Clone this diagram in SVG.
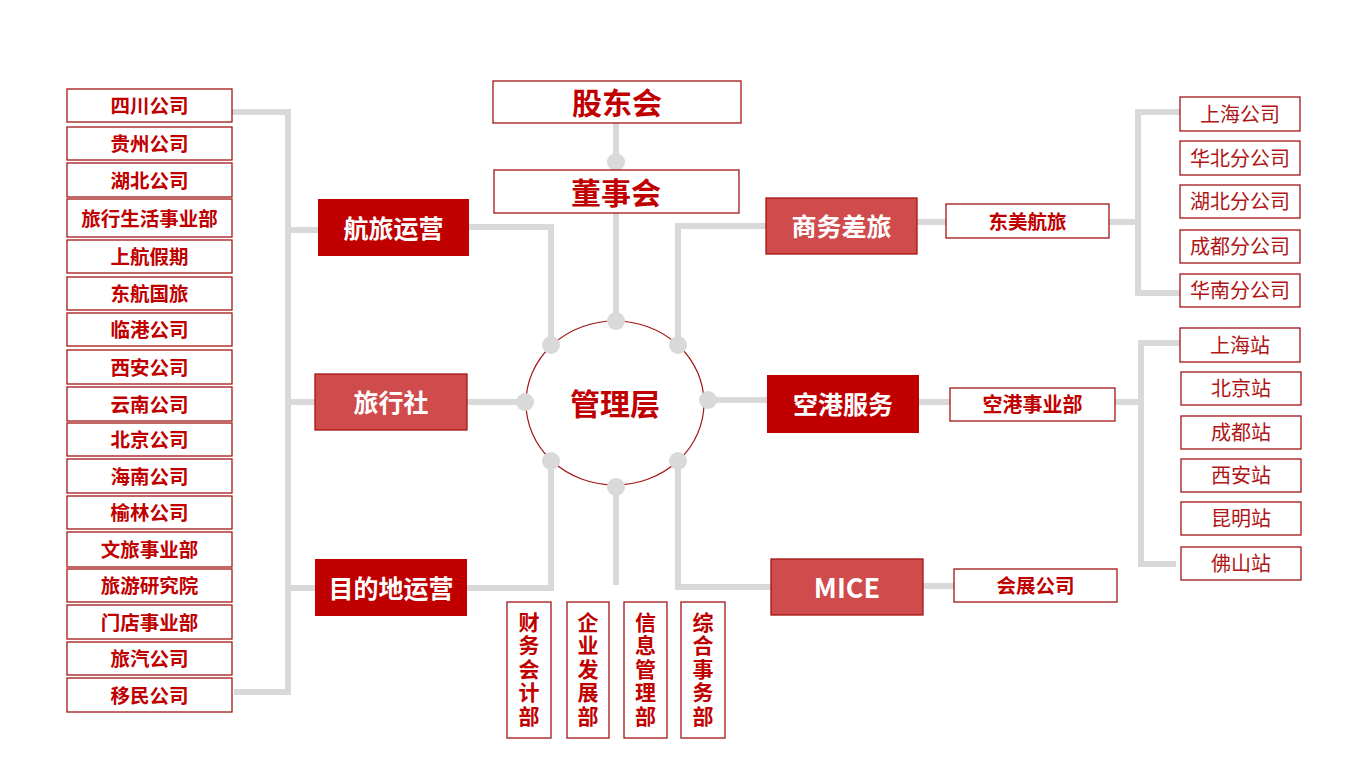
<svg xmlns="http://www.w3.org/2000/svg" width="1351" height="757" viewBox="0 0 1351 757">
<style>
text{font-family:"Noto Sans CJK SC","Microsoft YaHei",sans-serif;text-anchor:middle;dominant-baseline:central}
.wb{fill:#fff;stroke:#A31515;stroke-width:1.3}
.dk{fill:#C00000}
.lt{fill:#D04B4B;stroke:#A31515;stroke-width:1.3}
.t1{fill:#C00000;font-weight:700;font-size:19.5px}
.t2{fill:#B01515;font-weight:400;font-size:20px}
.tw{fill:#fff;font-weight:700;font-size:25px}
.tb{fill:#C00000;font-weight:700;font-size:30px}
.tv{fill:#C00000;font-weight:700;font-size:21px;writing-mode:vertical-rl;letter-spacing:2.5px}
.ln{fill:none;stroke:#D9D9D9;stroke-width:6}
.dot{fill:#D9D9D9}
</style>
<rect width="1351" height="757" fill="#fff"/>
<g id="mgmt-ring"><ellipse cx="615" cy="403" rx="89" ry="82" fill="#fff" stroke="#A31515" stroke-width="1.2"/></g>
<g id="connectors">
<path class="ln" d="M616,123V170M616,213V321M469,227H551V345M766,226H678V345M467,402H525M708,400H767M467,588H551V461M771,587H678V461M616,487V585"/>
<path class="ln" d="M232,112H288V692H234M288,230H318M288,402H315M288,588H315"/>
<path class="ln" d="M917,222H946M1109,222H1138M1180,112H1138V293H1180"/>
<path class="ln" d="M919,402H950M1115,402H1141M1180,343H1141V564H1176M923,586H954"/>
<circle class="dot" cx="616" cy="162" r="9"/>
<circle class="dot" cx="616" cy="321" r="9"/>
<circle class="dot" cx="551" cy="345" r="9"/>
<circle class="dot" cx="678" cy="345" r="9"/>
<circle class="dot" cx="525" cy="402" r="9"/>
<circle class="dot" cx="708" cy="400" r="9"/>
<circle class="dot" cx="551" cy="461" r="9"/>
<circle class="dot" cx="616" cy="487" r="9"/>
<circle class="dot" cx="678" cy="461" r="9"/>
</g>
<g id="mgmt"><text class="tb" x="615" y="402">管理层</text></g>
<g id="shareholders"><rect class="wb" x="493" y="81" width="248" height="42"/><text class="tb" x="617" y="101">股东会</text></g>
<g id="board"><rect class="wb" x="494" y="170" width="245" height="43"/><text class="tb" x="616" y="190.5">董事会</text></g>
<g id="hanglv"><rect class="dk" x="318" y="199" width="151" height="57"/><text class="tw" x="393.5" y="226.5">航旅运营</text></g>
<g id="lvxingshe"><rect class="lt" x="315" y="374" width="152" height="56"/><text class="tw" x="391" y="401">旅行社</text></g>
<g id="mudidi"><rect class="dk" x="315" y="559" width="152" height="57"/><text class="tw" x="391" y="586.5">目的地运营</text></g>
<g id="shangwu"><rect class="lt" x="766" y="198" width="151" height="56"/><text class="tw" x="841.5" y="225">商务差旅</text></g>
<g id="konggang"><rect class="dk" x="767" y="375" width="152" height="58"/><text class="tw" x="843" y="403">空港服务</text></g>
<g id="mice"><rect class="lt" x="771" y="559" width="152" height="56"/><text class="tw" x="847" y="586" style="font-size:27px">MICE</text></g>
<g id="dongmei"><rect class="wb" x="946" y="204" width="163" height="34"/><text class="t1" x="1027.5" y="220">东美航旅</text></g>
<g id="kgsyb"><rect class="wb" x="950" y="388" width="165" height="33"/><text class="t1" x="1032.5" y="403.5" style="font-size:20px">空港事业部</text></g>
<g id="huizhan"><rect class="wb" x="954" y="569" width="163" height="33"/><text class="t1" x="1035.5" y="584.5">会展公司</text></g>
<g id="right-top-list">
<g id="r1"><rect class="wb" x="1180" y="97" width="120" height="34"/><text class="t2" x="1240" y="113">上海公司</text></g>
<g id="r2"><rect class="wb" x="1180" y="141" width="120" height="34"/><text class="t2" x="1240" y="157">华北分公司</text></g>
<g id="r3"><rect class="wb" x="1180" y="185" width="120" height="33"/><text class="t2" x="1240" y="200.5">湖北分公司</text></g>
<g id="r4"><rect class="wb" x="1180" y="230" width="120" height="33"/><text class="t2" x="1240" y="245.5">成都分公司</text></g>
<g id="r5"><rect class="wb" x="1180" y="274" width="120" height="33"/><text class="t2" x="1240" y="289.5">华南分公司</text></g>
</g>
<g id="right-bottom-list">
<g id="s1"><rect class="wb" x="1180" y="328" width="120" height="34"/><text class="t2" x="1240" y="344">上海站</text></g>
<g id="s2"><rect class="wb" x="1181" y="372" width="120" height="33"/><text class="t2" x="1241" y="387.5">北京站</text></g>
<g id="s3"><rect class="wb" x="1181" y="416" width="120" height="33"/><text class="t2" x="1241" y="431.5">成都站</text></g>
<g id="s4"><rect class="wb" x="1181" y="459" width="120" height="33"/><text class="t2" x="1241" y="474.5">西安站</text></g>
<g id="s5"><rect class="wb" x="1181" y="502" width="120" height="33"/><text class="t2" x="1241" y="517.5">昆明站</text></g>
<g id="s6"><rect class="wb" x="1181" y="547" width="120" height="33"/><text class="t2" x="1241" y="562.5">佛山站</text></g>
</g>
<g id="left-list">
<g id="l1"><rect class="wb" x="67" y="89" width="165" height="33"/><text class="t1" x="149.5" y="104.5">四川公司</text></g>
<g id="l2"><rect class="wb" x="67" y="127" width="165" height="33"/><text class="t1" x="149.5" y="142.5">贵州公司</text></g>
<g id="l3"><rect class="wb" x="67" y="163" width="165" height="34"/><text class="t1" x="149.5" y="179">湖北公司</text></g>
<g id="l4"><rect class="wb" x="67" y="199" width="165" height="38"/><text class="t1" x="149.5" y="217">旅行生活事业部</text></g>
<g id="l5"><rect class="wb" x="67" y="240" width="165" height="33"/><text class="t1" x="149.5" y="255.5">上航假期</text></g>
<g id="l6"><rect class="wb" x="67" y="277" width="165" height="33"/><text class="t1" x="149.5" y="292.5">东航国旅</text></g>
<g id="l7"><rect class="wb" x="67" y="313" width="165" height="33"/><text class="t1" x="149.5" y="328.5">临港公司</text></g>
<g id="l8"><rect class="wb" x="67" y="350" width="165" height="34"/><text class="t1" x="149.5" y="366">西安公司</text></g>
<g id="l9"><rect class="wb" x="67" y="387" width="165" height="34"/><text class="t1" x="149.5" y="403">云南公司</text></g>
<g id="l10"><rect class="wb" x="67" y="423" width="165" height="33"/><text class="t1" x="149.5" y="438.5">北京公司</text></g>
<g id="l11"><rect class="wb" x="67" y="459" width="165" height="34"/><text class="t1" x="149.5" y="475">海南公司</text></g>
<g id="l12"><rect class="wb" x="67" y="496" width="165" height="33"/><text class="t1" x="149.5" y="511.5">榆林公司</text></g>
<g id="l13"><rect class="wb" x="67" y="532" width="165" height="35"/><text class="t1" x="149.5" y="548.5">文旅事业部</text></g>
<g id="l14"><rect class="wb" x="67" y="569" width="165" height="33"/><text class="t1" x="149.5" y="584.5">旅游研究院</text></g>
<g id="l15"><rect class="wb" x="67" y="605" width="165" height="34"/><text class="t1" x="149.5" y="621">门店事业部</text></g>
<g id="l16"><rect class="wb" x="67" y="642" width="165" height="33"/><text class="t1" x="149.5" y="657.5">旅汽公司</text></g>
<g id="l17"><rect class="wb" x="67" y="678" width="165" height="34"/><text class="t1" x="149.5" y="694">移民公司</text></g>
</g>
<g id="caiwu"><rect class="wb" x="507" y="602" width="44" height="136"/><text class="tv" x="529" y="670">财务会计部</text></g>
<g id="qiye"><rect class="wb" x="567" y="602" width="42" height="136"/><text class="tv" x="588" y="670">企业发展部</text></g>
<g id="xinxi"><rect class="wb" x="624" y="602" width="43" height="136"/><text class="tv" x="645.5" y="670">信息管理部</text></g>
<g id="zonghe"><rect class="wb" x="681" y="602" width="44" height="136"/><text class="tv" x="703" y="670">综合事务部</text></g>
</svg>
